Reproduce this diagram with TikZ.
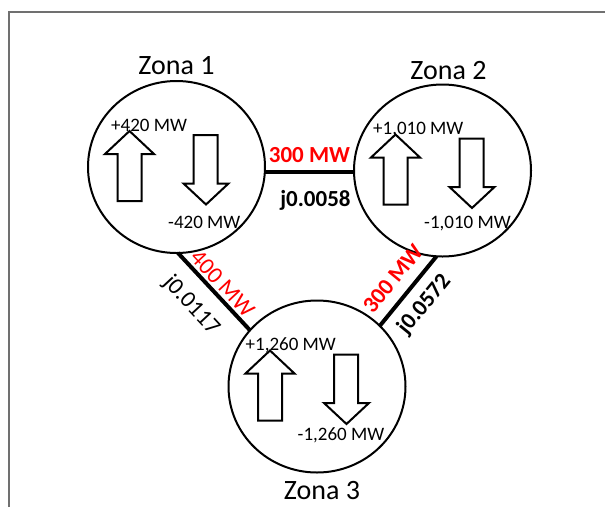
\documentclass[tikz,border=0pt]{standalone}
\usepackage{fontspec}
\setmainfont{Carlito}
\usetikzlibrary{shapes.geometric,positioning}
\definecolor{framegray}{RGB}{112,112,112}

\begin{document}
\begin{tikzpicture}[x=1pt,y=-1pt,
		zone/.style={draw,ellipse,line width=2pt,inner sep=0pt,outer sep=0pt,minimum width=177pt,minimum height=172pt},
		zonename/.style={inner sep=0pt,font=\fontsize{28}{32}\selectfont},
		mwtext/.style={inner sep=0pt,anchor=base west,font=\fontsize{19}{21}\selectfont},
		flowarrow/.style={draw,fill=white,line width=2pt},
		tieline/.style={line width=4pt},
		pwrlbl/.style={inner sep=0pt,text=red,font=\fontsize{23}{26}\selectfont\bfseries},
		implbl/.style={inner sep=0pt,font=\fontsize{23}{26}\selectfont\bfseries},
		plainlbl/.style={font=\fontsize{23.5}{26}\selectfont}]
			\useasboundingbox (0,0) rectangle (605,507);
			\draw [framegray,line width=1.3pt] (9,507) -- (9,12) -- (605,12);
			
			\node [zone] (z1) at (176.5,167) {};
			\node [zone] (z2) at (442.5,170.5) {};
			\node [zone] (z3) at (317,386.5) {};
			\node [zonename,above=6pt of z1] (n1) {Zona 1};
			\node [zonename,above=5pt of z2,xshift=6pt] (n2) {Zona 2};
			\node [zonename,below=9pt of z3,xshift=5pt] (n3) {Zona 3};
			
			% generation (up) and load (down) in every zone
			\foreach \z in {z1,z2,z3} {
				\draw [flowarrow,shift={(\z)}] (-59,34) -- (-59,-13) -- (-71.5,-13) -- (-47,-36) -- (-22.5,-13) -- (-35,-13) -- (-35,34) -- cycle;
				\draw [flowarrow,shift={(\z)}] (17,-32) -- (41,-32) -- (41,16.5) -- (52,16.5) -- (29.5,37.5) -- (7,16.5) -- (17,16.5) -- cycle;
			}
			
			\node [mwtext] (g1) at (111,131) {+420 MW};
			\node [mwtext] (d1) at (168,228) {-420 MW};
			\node [mwtext] (g2) at (373,134) {+1,010 MW};
			\node [mwtext] (d2) at (424,228) {-1,010 MW};
			\node [mwtext] (g3) at (245.5,350) {+1,260 MW};
			\node [mwtext] (d3) at (297.5,440) {-1,260 MW};
			
			% tie lines
			\draw [tieline] (z1.-3) -- (z1.-3 -| z2.west)
				node [pwrlbl,midway,above=7pt] (p12) {300 MW}
				node [implbl,midway,below=17pt,xshift=6pt] (x12) {j0.0058};
			\draw [tieline] (z1.-89) -- (z3.140)
				node [pwrlbl,plainlbl,midway,sloped,above=2pt] (p13) {400 MW}
				node [implbl,plainlbl,pos=.45,sloped,below=14pt] (x13) {j0.0117};
			\draw [tieline] (z3.44) -- (z2.266)
				node [pwrlbl,midway,sloped,above=10pt] (p23) {300 MW}
				node [implbl,midway,sloped,below=9pt] (x23) {j0.0572};
\end{tikzpicture}
\end{document}
